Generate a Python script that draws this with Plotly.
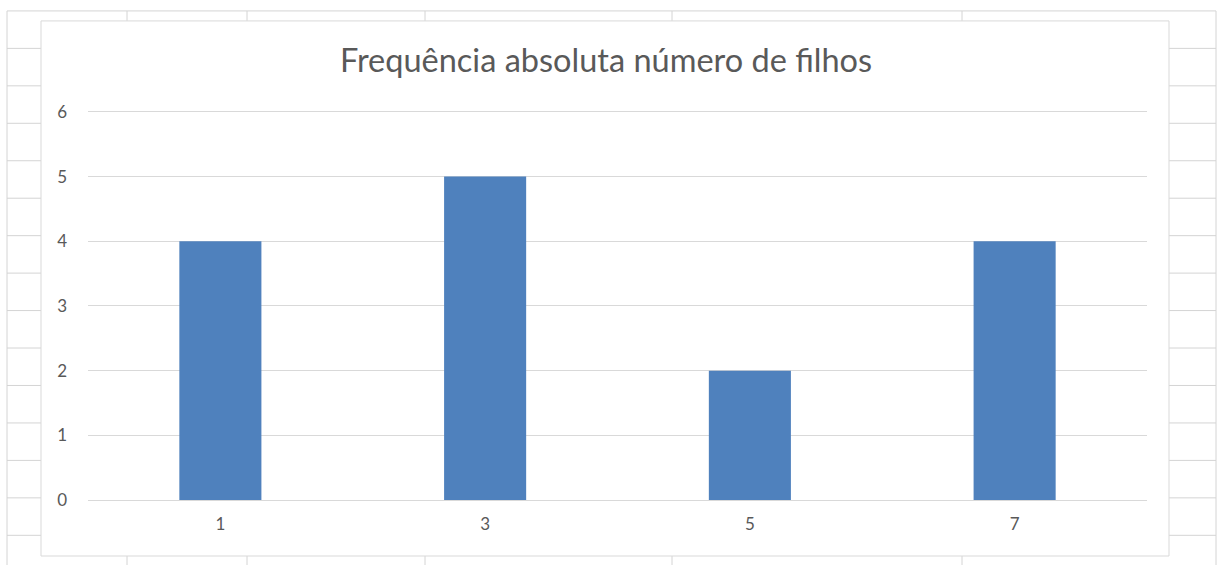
import plotly.graph_objects as go

# Número de filhos e frequência absoluta
num_filhos = ["1", "3", "5", "7"]
frequencia = [4, 5, 2, 4]
y_ticks = [0, 1, 2, 3, 4, 5, 6]
y_max = 6.03

W, H = 1224, 565
# plot area in pixels (value 6 sits at y=112)
PL, PR, PB = 88, 1147, 500
UNIT = (PB - 112) / 6
PT = PB - UNIT * y_max


def px(x):
    return (x - PL) / (PR - PL)


def py(y):
    return (PB - y) / (PB - PT)


GRID = "#D4D4D4"
shapes = []

# worksheet cell grid around the chart
row_lines = [11 + 37.45 * i for i in range(15)]
col_lines = [7, 127, 247, 425, 672, 962, 1216]
chart_l, chart_t, chart_r, chart_b = 41, 21, 1169, 556

shapes.append(dict(type="line", xref="paper", yref="paper",
                   x0=px(7), x1=px(1216), y0=py(11), y1=py(11),
                   line=dict(color=GRID, width=1), layer="below"))
for y in row_lines[1:]:
    if y > H:
        continue
    shapes.append(dict(type="line", xref="paper", yref="paper",
                       x0=px(7), x1=px(chart_l), y0=py(y), y1=py(y),
                       line=dict(color=GRID, width=1), layer="below"))
    shapes.append(dict(type="line", xref="paper", yref="paper",
                       x0=px(chart_r), x1=px(1216), y0=py(y), y1=py(y),
                       line=dict(color=GRID, width=1), layer="below"))
for x in col_lines:
    if x in (7, 1216):
        shapes.append(dict(type="line", xref="paper", yref="paper",
                           x0=px(x), x1=px(x), y0=py(11), y1=py(H),
                           line=dict(color=GRID, width=1), layer="below"))
    else:
        shapes.append(dict(type="line", xref="paper", yref="paper",
                           x0=px(x), x1=px(x), y0=py(11), y1=py(chart_t),
                           line=dict(color=GRID, width=1), layer="below"))
        shapes.append(dict(type="line", xref="paper", yref="paper",
                           x0=px(x), x1=px(x), y0=py(chart_b), y1=py(H),
                           line=dict(color=GRID, width=1), layer="below"))

# chart area border
shapes.append(dict(type="rect", xref="paper", yref="paper",
                   x0=px(chart_l), x1=px(chart_r), y0=py(chart_t), y1=py(chart_b),
                   line=dict(color="#D9D9D9", width=1), fillcolor="white",
                   layer="below"))

fig = go.Figure(go.Bar(
    x=num_filhos,
    y=frequencia,
    marker=dict(color="#4F81BD", line=dict(width=0)),
))

FONT = "Lato"
fig.update_layout(
    width=W, height=H,
    margin=dict(l=PL, r=W - PR, t=PT, b=H - PB, pad=0),
    paper_bgcolor="white",
    plot_bgcolor="rgba(0,0,0,0)",
    bargap=0.69,
    showlegend=False,
    shapes=shapes,
    title=dict(
        text="Frequência absoluta número de filhos",
        xref="container", yref="container",
        x=606 / W, y=1 - 61 / H, xanchor="center", yanchor="middle",
        font=dict(family=FONT, size=32.5, color="#595959"),
    ),
    xaxis=dict(
        type="category",
        showgrid=False, showline=False, zeroline=False,
        ticks="", ticklabelstandoff=12,
        tickfont=dict(family=FONT, size=17, color="#595959"),
    ),
    yaxis=dict(
        range=[0, y_max], tickvals=y_ticks,
        showgrid=True, gridcolor="#D9D9D9", gridwidth=1,
        zeroline=True, zerolinecolor="#D9D9D9", zerolinewidth=1,
        showline=False, ticks="", ticklabelstandoff=20,
        tickfont=dict(family=FONT, size=17, color="#595959"),
    ),
)

fig.write_html("out.html")
